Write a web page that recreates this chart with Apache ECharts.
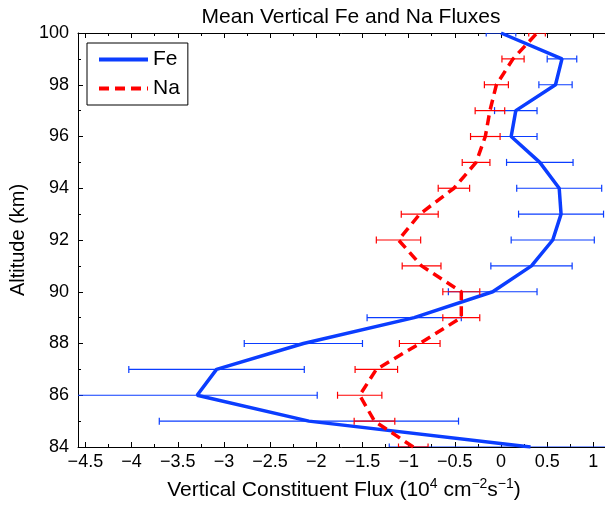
<!DOCTYPE html>
<html><head><meta charset="utf-8">
<script src="https://cdn.jsdelivr.net/npm/echarts@6/dist/echarts.min.js"></script>
<style>html,body{margin:0;padding:0;background:#fff}#c{width:605px;height:506px}</style>
</head><body><div id="c"></div>
<script>
const altitudes = [84, 85, 86, 87, 88, 89, 90, 91, 92, 93, 94, 95, 96, 97, 98, 99, 100];
const feFlux = [0.32, -2.08, -3.29, -3.08, -2.14, -0.94, -0.09, 0.33, 0.56, 0.65, 0.63, 0.42, 0.11, 0.16, 0.59, 0.66, 0.00];
const feErr  = [1.53, 1.62, 1.30, 0.95, 0.64, 0.51, 0.48, 0.44, 0.45, 0.46, 0.46, 0.36, 0.28, 0.23, 0.18, 0.16, 0.16];
const naFlux = [-0.95, -1.37, -1.53, -1.35, -0.88, -0.43, -0.43, -0.86, -1.11, -0.88, -0.51, -0.27, -0.17, -0.12, -0.05, 0.13, 0.39];
const naErr  = [0.16, 0.22, 0.24, 0.23, 0.22, 0.20, 0.20, 0.21, 0.24, 0.20, 0.17, 0.15, 0.16, 0.16, 0.13, 0.12, 0.09];
const xMajorTicks = [-4.5, -4, -3.5, -3, -2.5, -2, -1.5, -1, -0.5, 0, 0.5, 1];
const xMinorTicks = [-4.25, -3.75, -3.25, -2.75, -2.25, -1.75, -1.25, -0.75, -0.25, 0.25, 0.75];
const yTicks = [84, 86, 88, 90, 92, 94, 96, 98, 100];

const FONT = "'Liberation Sans', Helvetica, Arial, sans-serif";
const BLUE = '#0b3dff';
const RED = '#ff0000';
const X_MIN = -4.58, X_MAX = 1.18;

function errRender(color) {
  return function (params, api) {
    const x = api.value(0), y = api.value(1), e = api.value(2);
    const p1 = api.coord([x - e, y]);
    const p2 = api.coord([x + e, y]);
    const h = 3.5;
    const style = { stroke: color, lineWidth: 1.2, fill: null };
    return {
      type: 'group',
      children: [
        { type: 'line', shape: { x1: p1[0], y1: p1[1], x2: p2[0], y2: p2[1] }, style: style },
        { type: 'line', shape: { x1: p1[0], y1: p1[1] - h, x2: p1[0], y2: p1[1] + h }, style: style },
        { type: 'line', shape: { x1: p2[0], y1: p2[1] - h, x2: p2[0], y2: p2[1] + h }, style: style }
      ]
    };
  };
}

function xAxisDef(pos, ticks, len, showLine, showLabel) {
  return {
    type: 'value', position: pos, min: X_MIN, max: X_MAX,
    axisLine: { show: showLine, onZero: false, lineStyle: { color: '#000', width: 1 } },
    axisTick: { show: true, inside: true, length: len, customValues: ticks, lineStyle: { color: '#000' } },
    axisLabel: showLabel ? {
      show: true, customValues: ticks, fontSize: 18, color: '#000', fontFamily: FONT, margin: 6,
      formatter: v => String(v).replace('-', '\u2212')
    } : { show: false },
    splitLine: { show: false }
  };
}

const xMain = xAxisDef('bottom', xMajorTicks, 5, true, true);
xMain.name = 'Vertical Constituent Flux (10{sup|4} cm{sup|\u22122}s{sup|\u22121})';
xMain.nameLocation = 'middle';
xMain.nameGap = 30;
xMain.nameTextStyle = {
  fontSize: 21, color: '#000', fontFamily: FONT, lineHeight: 27,
  rich: { sup: { fontSize: 14, color: '#000', fontFamily: FONT, verticalAlign: 'top', lineHeight: 14 } }
};

const chart = echarts.init(document.getElementById('c'), null, { renderer: 'canvas' });
chart.setOption({
  animation: false,
  backgroundColor: '#fff',
  title: {
    text: 'Mean Vertical Fe and Na Fluxes',
    left: 346, textAlign: 'center', top: 2,
    textStyle: { fontSize: 21, fontWeight: 'normal', color: '#000', fontFamily: FONT }
  },
  legend: {
    data: ['Fe', 'Na'],
    orient: 'vertical',
    left: 87, top: 43,
    padding: [6, 8, 6, 10],
    itemWidth: 49, itemHeight: 20, itemGap: 8,
    backgroundColor: '#fff',
    borderColor: '#000', borderWidth: 1,
    itemStyle: { opacity: 0 },
    lineStyle: { width: 4 },
    z: 10,
    textStyle: { fontSize: 21, color: '#000', fontFamily: FONT }
  },
  grid: { left: 78, right: -5, top: 33, bottom: 59, containLabel: false, outerBoundsMode: 'none' },
  xAxis: [
    xMain,
    xAxisDef('bottom', xMinorTicks, 3, false, false),
    xAxisDef('top', xMajorTicks, 5, true, false),
    xAxisDef('top', xMinorTicks, 3, false, false)
  ],
  yAxis: [{
    type: 'value', position: 'left', min: 84, max: 100, interval: 2,
    axisLine: { show: true, onZero: false, lineStyle: { color: '#000', width: 1 } },
    axisTick: { show: true, inside: true, length: 5, lineStyle: { color: '#000' } },
    minorTick: { show: true, splitNumber: 2, length: 3, lineStyle: { color: '#000' } },
    axisLabel: {
      fontSize: 18, color: '#000', fontFamily: FONT, margin: 9,
      customValues: yTicks
    },
    splitLine: { show: false },
    name: 'Altitude (km)', nameLocation: 'middle', nameGap: 45, nameRotate: 90,
    nameTextStyle: { fontSize: 20, color: '#000', fontFamily: FONT }
  }],
  series: [
    {
      name: 'FeErr', type: 'custom', clip: true, z: 2,
      renderItem: errRender(BLUE),
      encode: { x: 0, y: 1 },
      data: altitudes.map((a, i) => [feFlux[i], a, feErr[i]])
    },
    {
      name: 'Fe', type: 'line', symbol: 'none', z: 3, clip: true,
      lineStyle: { color: BLUE, width: 3.5 },
      itemStyle: { color: BLUE },
      data: altitudes.map((a, i) => [feFlux[i], a])
    },
    {
      name: 'NaErr', type: 'custom', clip: true, z: 4,
      renderItem: errRender(RED),
      encode: { x: 0, y: 1 },
      data: altitudes.map((a, i) => [naFlux[i], a, naErr[i]])
    },
    {
      name: 'Na', type: 'line', symbol: 'none', z: 5, clip: true,
      lineStyle: { color: RED, width: 3.5, type: [10, 6] },
      itemStyle: { color: RED },
      data: altitudes.map((a, i) => [naFlux[i], a])
    }
  ]
});
</script>
</body></html>
